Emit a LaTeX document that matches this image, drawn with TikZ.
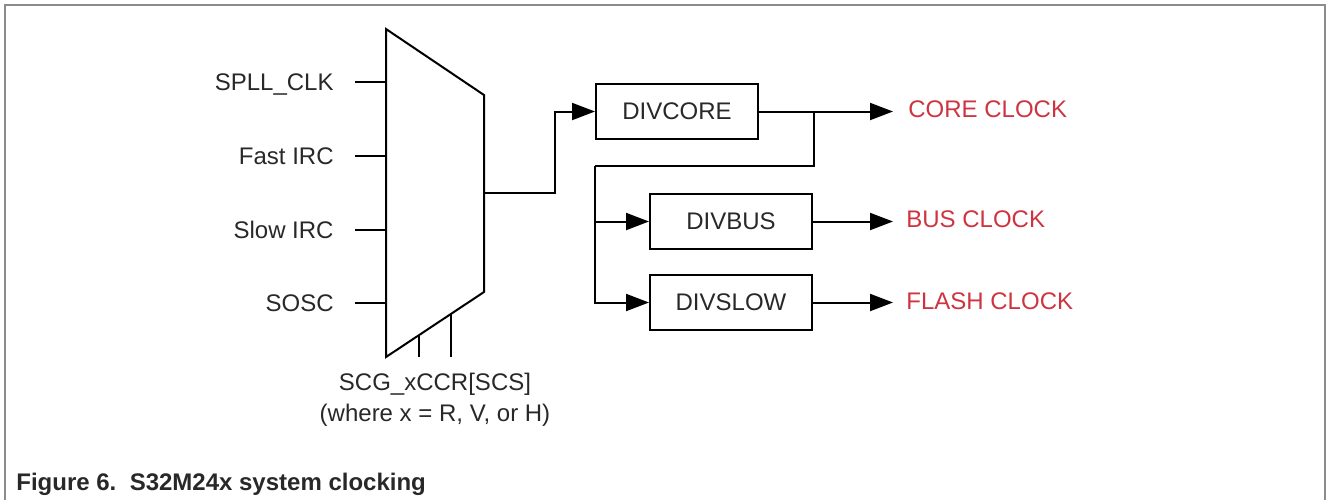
\documentclass[tikz,border=0pt]{standalone}
\usepackage{fontspec}
\setmainfont{Liberation Sans}
\usepackage{tikz}
\usetikzlibrary{arrows.meta,positioning,calc}
\definecolor{txtgray}{RGB}{40, 40, 40}
\definecolor{clkred}{RGB}{206, 52, 64}
\definecolor{framegray}{RGB}{140, 140, 140}
\tikzstyle{divider} = [rectangle, draw=black, line width=1pt, text=txtgray, text centered, font=\fontsize{12}{14}\selectfont, minimum width=81pt, minimum height=27.5pt, inner sep=0pt]
\tikzstyle{textonly} = [draw=none, fill=none, inner sep=0pt, text=txtgray, font=\fontsize{12}{14}\selectfont, text height=8.6pt, text depth=0pt]
\tikzstyle{clklabel} = [textonly, text=clkred]
\tikzstyle{wire}  = [draw, line width=1pt]
\tikzstyle{tedge} = [wire, -{Triangle[length=11.5pt, width=8.5pt]}]

\begin{document}
\begin{tikzpicture}[x=0.5pt, y=-0.5pt]
\useasboundingbox (0,0) rectangle (1328,500);

% frame =============================
\draw[framegray, line width=1pt] (5,500) -- (5,5) -- (1325,5) -- (1325,500);

% multiplexer =============================
\coordinate (mtl) at (386,29);
\coordinate (mtr) at (484,95);
\coordinate (mbr) at (484,292);
\coordinate (mbl) at (386,357);
\draw[wire, line join=miter] (mtl) -- (mtr) -- (mbr) -- (mbl) -- cycle;

\node[textonly, anchor=east] (spll) at (334,82) {SPLL\_CLK};
\node[textonly, anchor=east] (firc) at (334,156) {Fast IRC};
\node[textonly, anchor=east] (sirc) at (334,230) {Slow IRC};
\node[textonly, anchor=east] (sosc) at (334,303) {SOSC};
\foreach \src in {spll,firc,sirc,sosc}
  \draw[wire, shorten <=10.5pt] (\src.east) -- (\src.east -| mtl);

% select lines
\coordinate (sel1) at ($(mbl)!1/3!(mbr)$);
\coordinate (sel2) at ($(mbl)!2/3!(mbr)$);
\draw[wire] (sel1) -- (sel1 |- mbl);
\draw[wire] (sel2) -- (sel2 |- mbl);
\node[textonly, text height=, text depth=, align=center, font=\fontsize{12}{15.5}\selectfont] (scs) at (435,400) {SCG\_xCCR[SCS]\\(where x = R, V, or H)};

% dividers =============================
\node[divider] (divcore) at (677,111.5) {DIVCORE};
\node[divider] (divbus) at (731,221.5) {DIVBUS};
\node[divider] (divslow) at (731,302.5) {DIVSLOW};

\coordinate (mout) at (484,193);
\draw[tedge] (mout) -- ++(71,0) |- (divcore.west);

\coordinate (split) at ($(divcore.east)+(55,0)$);
\draw[wire] (split) |- ($(divcore.west)+(0,54.5)$) coordinate (rail);
\draw[tedge] (rail) |- (divbus.west);
\draw[tedge] (rail) |- (divslow.west);

% outputs
\draw[tedge] (divcore.east) -- ++(134,0) coordinate (coretip);
\draw[tedge] (divbus.east) -- ++(80,0) coordinate (bustip);
\draw[tedge] (divslow.east) -- ++(80,0) coordinate (flashtip);
\node[clklabel, right=7.5pt of coretip, yshift=1.5pt] (coreclk) {CORE CLOCK};
\node[clklabel, right=6.5pt of bustip, yshift=1.5pt] (busclk) {BUS CLOCK};
\node[clklabel, right=6.5pt of flashtip, yshift=1pt] (flashclk) {FLASH CLOCK};

% caption
\node[anchor=west, inner sep=0pt, text=txtgray, font=\bfseries\fontsize{12}{14}\selectfont] (caption) at (16,484) {Figure 6.\ \ S32M24x system clocking};

\end{tikzpicture}
\end{document}
